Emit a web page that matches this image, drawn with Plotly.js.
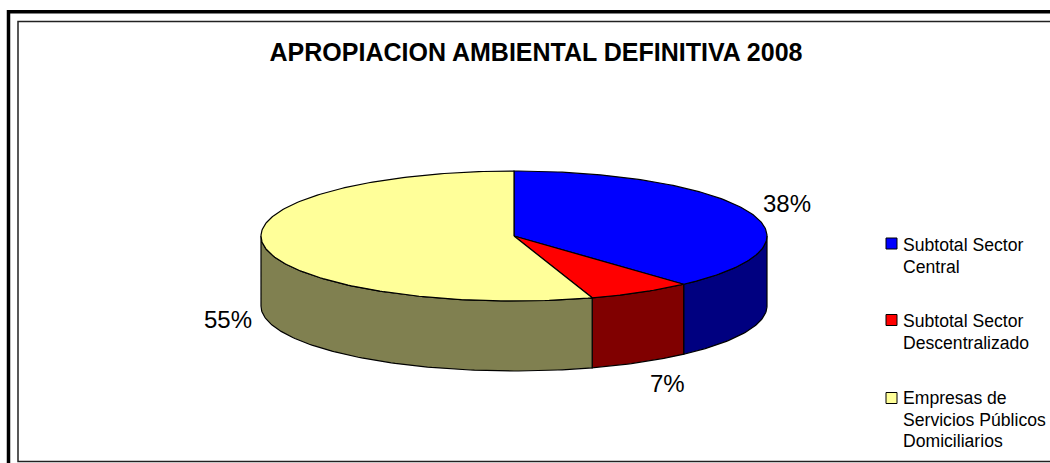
<!DOCTYPE html>
<html>
<head>
<meta charset="utf-8">
<script src="https://cdn.plot.ly/plotly-3.0.1.min.js"></script>
<style>html,body{margin:0;padding:0;background:#fff;overflow:hidden}#chart{width:1050px;height:463px}</style>
</head>
<body>
<div id="chart"></div>
<script>
// Data
const chartTitle = "APROPIACION AMBIENTAL DEFINITIVA 2008";
const categories = ["Subtotal Sector<br>Central", "Subtotal Sector<br>Descentralizado", "Empresas de<br>Servicios Públicos<br>Domiciliarios"];
const shares = [38.3, 6.7, 55.0];
const shareLabels = ["38%", "7%", "55%"];

// Styles
const topColors = ["#0000FF", "#FF0000", "#FFFF99"];
const sideColors = ["#000080", "#800000", "#808050"];
const labelPos = [[787, 203.5], [667.5, 383], [227.5, 319]];
const legendY = [243.5, 320, 398];
const legendTextY = [245, 321, 398];
const legendLineGap = 21.5;
const FONT = "Liberation Sans, Arial, sans-serif";

// Pie projection, in plot units (1 unit = 1 px)
const cx = 514, cy = 236, rx = 253, ry = 65, depth = 70;
const STEP = 1;

function rim(a0, a1, dy) {
  const xs = [], ys = [];
  const n = Math.max(2, Math.ceil(Math.abs(a1 - a0) / STEP));
  for (let i = 0; i <= n; i++) {
    const t = (a0 + (a1 - a0) * i / n) * Math.PI / 180;
    xs.push(cx + rx * Math.sin(t));
    ys.push(cy - ry * Math.cos(t) + dy);
  }
  return {xs, ys};
}

const total = shares.reduce((a, b) => a + b, 0);
let acc = 0;
const slices = shares.map(v => {
  const s = {a0: acc / total * 360, a1: (acc + v) / total * 360};
  acc += v;
  return s;
});

const traces = [];
// side walls: only the front half (90deg..270deg) is visible
slices.forEach((s, i) => {
  const a0 = Math.max(s.a0, 90), a1 = Math.min(s.a1, 270);
  if (a1 <= a0) return;
  const up = rim(a0, a1, 0), lo = rim(a1, a0, depth);
  traces.push({
    type: "scatter", mode: "lines", fill: "toself", fillcolor: sideColors[i],
    x: up.xs.concat(lo.xs, [up.xs[0]]), y: up.ys.concat(lo.ys, [up.ys[0]]),
    line: {color: "#000", width: 1.2}, hoverinfo: "skip", showlegend: false
  });
});
// top faces
slices.forEach((s, i) => {
  const r = rim(s.a0, s.a1, 0);
  traces.push({
    type: "scatter", mode: "lines", fill: "toself", fillcolor: topColors[i],
    x: [cx].concat(r.xs, [cx]), y: [cy].concat(r.ys, [cy]),
    line: {color: "#000", width: 1.2}, name: categories[i], hoverinfo: "skip", showlegend: false
  });
});
// legend swatches
traces.push({
  type: "scatter", mode: "markers", x: categories.map(() => 891.5), y: legendY,
  marker: {symbol: "square", size: 11, color: topColors, line: {color: "#000", width: 1}},
  hoverinfo: "skip", showlegend: false
});

const annotations = shareLabels.map((t, i) => ({
  x: labelPos[i][0], y: labelPos[i][1], xref: "x", yref: "y", text: t, showarrow: false,
  xanchor: "center", yanchor: "middle", font: {family: FONT, size: 24, color: "#000"}
}));
categories.forEach((t, i) => {
  t.split("<br>").forEach((line, j) => {
    annotations.push({
      x: 901, y: legendTextY[i] + j * legendLineGap, xref: "x", yref: "y", text: line, showarrow: false,
      xanchor: "left", yanchor: "middle", align: "left", font: {family: FONT, size: 17.6, color: "#000"}
    });
  });
});

const shapes = [
  {type: "rect", xref: "x", yref: "y", x0: 8.5, y0: 11.75, x1: 1060, y1: 480, line: {color: "#000", width: 3.5}, fillcolor: "rgba(0,0,0,0)"},
  {type: "rect", xref: "x", yref: "y", x0: 18, y0: 21.5, x1: 1060, y1: 461.5, line: {color: "#222", width: 1.5}, fillcolor: "rgba(0,0,0,0)"}
];

const axis = {visible: false, fixedrange: true, showgrid: false, zeroline: false};
Plotly.newPlot("chart", traces, {
  width: 1050, height: 463,
  margin: {l: 0, r: 0, t: 0, b: 0},
  paper_bgcolor: "#fff", plot_bgcolor: "#fff",
  title: {text: "<b>" + chartTitle + "</b>", x: 536 / 1050, xanchor: "center", y: 1 - 52 / 463, yanchor: "middle",
          font: {family: FONT, size: 25, color: "#000"}},
  xaxis: Object.assign({range: [0, 1050]}, axis),
  yaxis: Object.assign({range: [463, 0]}, axis),
  showlegend: false,
  annotations, shapes
}, {displayModeBar: false, staticPlot: true});
</script>
</body>
</html>
